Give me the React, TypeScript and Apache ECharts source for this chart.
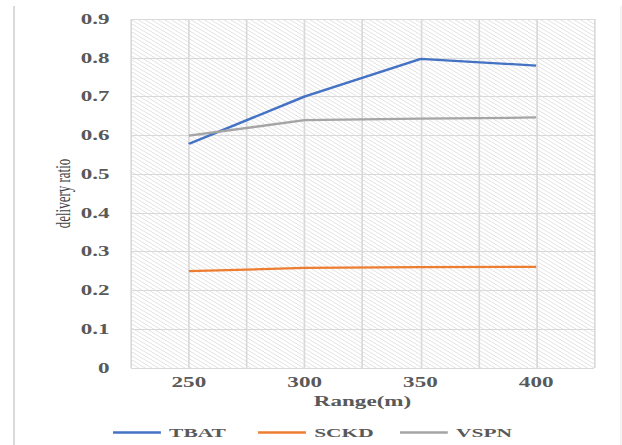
import React, { useEffect, useRef } from "react";
import * as echarts from "echarts";

const categories = ["250", "300", "350", "400"];
const tbat = [0.578, 0.7, 0.797, 0.78];
const sckd = [0.25, 0.258, 0.26, 0.261];
const vspn = [0.599, 0.639, 0.643, 0.646];
const seriesNames = ["TBAT", "SCKD", "VSPN"];
const seriesColors = ["#4472C4", "#ED7D31", "#A5A5A5"];

const STRETCH = 1.65;
const W = 622 / STRETCH;
const H = 445;
const FONT = "'Liberation Serif', 'Times New Roman', serif";

function makeHatch(): HTMLCanvasElement {
  const c = document.createElement("canvas");
  c.width = 4;
  c.height = 4;
  const ctx = c.getContext("2d")!;
  ctx.fillStyle = "#ffffff";
  ctx.fillRect(0, 0, 4, 4);
  ctx.fillStyle = "#e2e2e2";
  for (let i = 0; i < 4; i++) ctx.fillRect(i, i, 1, 1);
  return c;
}

export default function App() {
  const ref = useRef<HTMLDivElement>(null);
  useEffect(() => {
    if (!ref.current) return;
    const chart = echarts.init(ref.current, undefined, { renderer: "svg" });
    const hatch = makeHatch();
    const dataSets = [tbat, sckd, vspn];
    const legendLefts = [68.5, 156.4, 242.4];
    chart.setOption({
      animation: false,
      backgroundColor: "#ffffff",
      grid: {
        left: 79.4,
        right: W - 360,
        top: 19,
        bottom: 77,
        show: true,
        borderWidth: 0,
        backgroundColor: { image: hatch, repeat: "repeat" },
      },
      xAxis: [
        {
          type: "category",
          data: categories,
          boundaryGap: true,
          axisLine: { show: false },
          axisTick: { show: false },
          splitLine: { show: false },
          axisLabel: {
            color: "#595959",
            fontFamily: FONT,
            fontWeight: "bold",
            fontSize: 14,
            margin: 7,
          },
          name: "Range(m)",
          nameLocation: "middle",
          nameGap: 22,
          nameTextStyle: {
            color: "#595959",
            fontFamily: FONT,
            fontWeight: "bold",
            fontSize: 14,
          },
        },
        {
          type: "value",
          min: 0,
          max: 8,
          interval: 1,
          position: "bottom",
          axisLine: { show: false },
          axisTick: { show: false },
          axisLabel: { show: false },
          splitLine: { show: true, lineStyle: { color: "#d9d9d9", width: 1 } },
        },
      ],
      yAxis: {
        type: "value",
        min: 0,
        max: 0.9,
        interval: 0.1,
        axisLine: { show: false },
        axisTick: { show: false },
        splitLine: { show: true, lineStyle: { color: "#d9d9d9", width: 1 } },
        axisLabel: {
          color: "#595959",
          fontFamily: FONT,
          fontWeight: "bold",
          fontSize: 14,
          margin: 13,
          formatter: (v: number) => (v === 0 ? "0" : v.toFixed(1)),
        },
        name: "delivery ratio",
        nameLocation: "middle",
        nameRotate: 90,
        nameGap: 35,
        nameMoveOverlap: false,
        nameTextStyle: {
          color: "#404040",
          fontFamily: FONT,
          fontSize: 13,
        },
      },
      legend: seriesNames.map((n, i) => ({
        data: [{ name: n, icon: "rect" }],
        left: legendLefts[i],
        top: 426,
        itemWidth: 29,
        itemHeight: 2.5,
        padding: 0,
        textStyle: {
          color: "#595959",
          fontFamily: FONT,
          fontWeight: "bold",
          fontSize: 13,
        },
      })),
      graphic: [
        {
          type: "line",
          shape: { x1: 8.5, y1: 6, x2: 8.5, y2: H },
          style: { stroke: "#d9d9d9", lineWidth: 1.2 },
          silent: true,
        },
        {
          type: "line",
          shape: { x1: 376.3, y1: 6, x2: 376.3, y2: H },
          style: { stroke: "#f0f0f0", lineWidth: 1 },
          silent: true,
        },
      ],
      series: seriesNames.map((n, i) => ({
        name: n,
        type: "line",
        xAxisIndex: 0,
        data: dataSets[i],
        symbol: "none",
        lineStyle: { color: seriesColors[i], width: 2.25 },
        itemStyle: { color: seriesColors[i] },
      })),
    });
    return () => chart.dispose();
  }, []);
  return (
    <div
      ref={ref}
      style={{
        position: "fixed",
        left: 0,
        top: 0,
        width: W,
        height: H,
        transform: `scaleX(${STRETCH})`,
        transformOrigin: "0 0",
      }}
    />
  );
}
